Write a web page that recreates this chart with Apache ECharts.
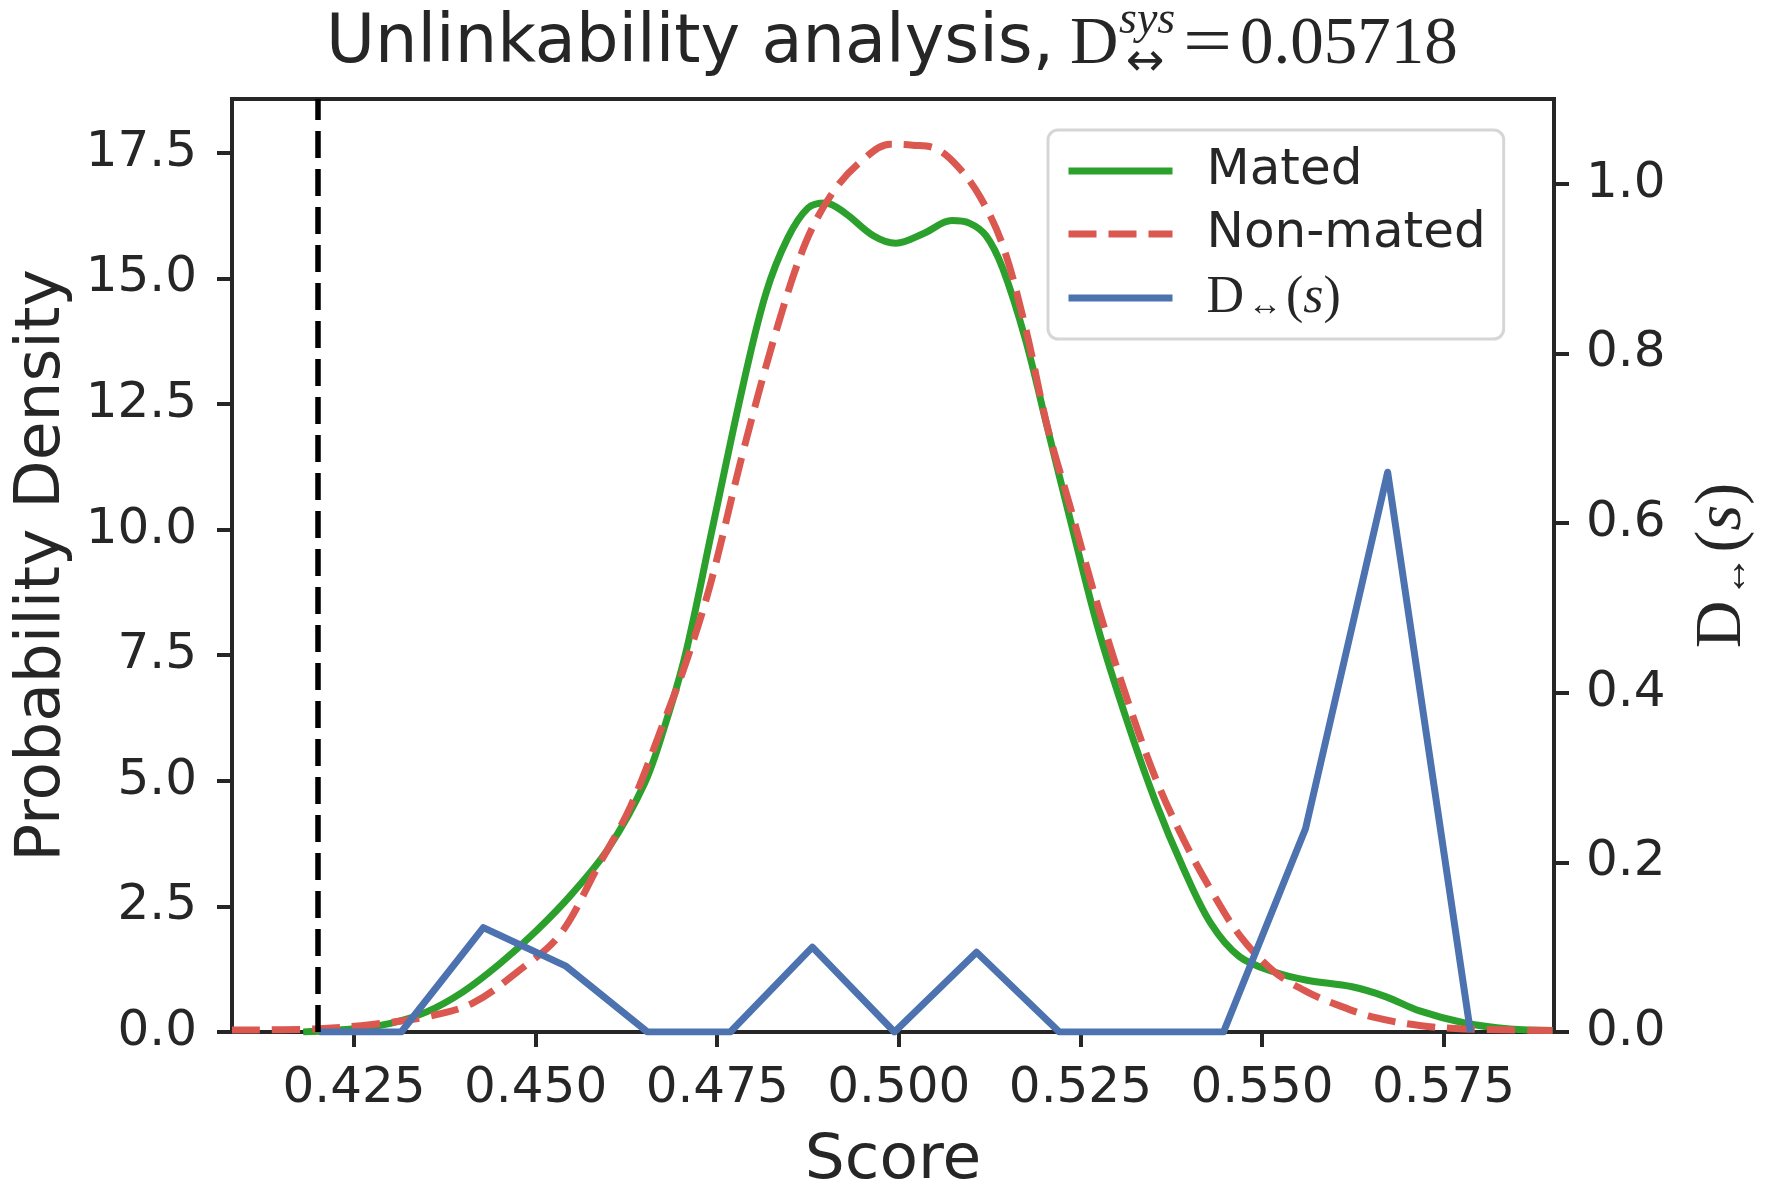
<!DOCTYPE html>
<html>
<head>
<meta charset="utf-8">
<script src="https://cdn.jsdelivr.net/npm/echarts@6/dist/echarts.min.js"></script>
<style>
html,body{margin:0;padding:0;background:#fff;}
#chart{width:1767px;height:1201px;}
</style>
</head>
<body>
<div id="chart"></div>
<script>
// axis ticks
var scoreTicks = [0.425, 0.45, 0.475, 0.5, 0.525, 0.55, 0.575];
var densityTicks = [0, 2.5, 5, 7.5, 10, 12.5, 15, 17.5];
var dTicks = [0, 0.2, 0.4, 0.6, 0.8, 1.0];

// threshold (black dashed line)
var threshold = 0.4197;

// mated KDE
var matedScore = [0.418, 0.422, 0.426, 0.430, 0.435, 0.440, 0.445, 0.450, 0.455, 0.460, 0.465, 0.4678, 0.4706, 0.4743, 0.4786, 0.4817, 0.4847, 0.4875, 0.4899, 0.4926, 0.4965, 0.4996, 0.5035, 0.5073, 0.5097, 0.5120, 0.5143, 0.5174, 0.5205, 0.5236, 0.5275, 0.5314, 0.5353, 0.5392, 0.5430, 0.5469, 0.5516, 0.5562, 0.5624, 0.5671, 0.5717, 0.5779, 0.5841, 0.5900];
var matedDensity = [0.0, 0.03, 0.08, 0.17, 0.40, 0.80, 1.35, 2.0, 2.75, 3.65, 4.95, 6.1, 7.5, 10.0, 12.9, 14.7, 15.8, 16.4, 16.5, 16.3, 15.85, 15.7, 15.9, 16.15, 16.1, 15.85, 15.2, 13.8, 12.0, 10.2, 8.0, 6.2, 4.6, 3.25, 2.15, 1.5, 1.2, 1.03, 0.9, 0.7, 0.42, 0.18, 0.06, 0.03];

// non-mated KDE
var nonMatedScore = [0.4082, 0.4197, 0.4275, 0.4352, 0.4414, 0.4476, 0.4533, 0.4585, 0.4631, 0.4677, 0.4706, 0.4740, 0.4786, 0.4833, 0.4872, 0.4910, 0.4949, 0.4988, 0.5019, 0.5050, 0.5081, 0.5112, 0.5143, 0.5174, 0.5205, 0.5236, 0.5275, 0.5314, 0.5353, 0.5392, 0.5430, 0.5469, 0.5516, 0.5562, 0.5609, 0.5655, 0.5717, 0.5779, 0.5900];
var nonMatedDensity = [0.04, 0.06, 0.15, 0.31, 0.58, 1.21, 1.93, 3.27, 4.5, 6.19, 7.31, 8.88, 11.57, 14.04, 15.72, 16.73, 17.34, 17.67, 17.65, 17.59, 17.23, 16.62, 15.66, 14.04, 12.02, 10.45, 8.43, 6.64, 5.07, 3.83, 2.82, 1.93, 1.21, 0.8, 0.51, 0.29, 0.13, 0.06, 0.03];

// D<->(s)
var dScore = [0.4202, 0.4315, 0.4428, 0.4541, 0.4654, 0.4768, 0.4881, 0.4994, 0.5107, 0.5221, 0.5334, 0.5447, 0.5560, 0.5673, 0.5787];
var dValue = [0, 0, 0.123, 0.078, 0, 0, 0.10, 0, 0.094, 0, 0, 0, 0.24, 0.66, 0];

function pairs(xs, ys) {
  var out = [];
  for (var i = 0; i < xs.length; i++) out.push([xs[i], ys[i]]);
  return out;
}

var ink = '#262626';
var sans = 'DejaVu Sans';
var serif = 'Liberation Serif';

var chart = echarts.init(document.getElementById('chart'));

var option = {
  animation: false,
  backgroundColor: '#fff',
  grid: {
    left: 232, right: 213, top: 99, bottom: 169,
    show: true, borderColor: ink, borderWidth: 4
  },
  graphic: [
    { type: 'text', x: 326, y: 45, style: { text: 'Unlinkability analysis,', fontFamily: sans, fontSize: 67, fill: ink, verticalAlign: 'middle' } },
    { type: 'text', x: 1070, y: 45, style: { text: 'D', fontFamily: serif, fontSize: 67, fill: ink, verticalAlign: 'middle' } },
    { type: 'text', x: 1119, y: 21, style: { text: 'sys', fontFamily: serif, fontStyle: 'italic', fontSize: 46, fill: ink, verticalAlign: 'middle' } },
    { type: 'text', x: 1126, y: 63, style: { text: '\u2194', fontFamily: sans, fontSize: 46, fill: ink, verticalAlign: 'middle' } },
    { type: 'text', x: 1183, y: 45, scaleX: 1.3, style: { text: '=', fontFamily: serif, fontSize: 67, fill: ink, verticalAlign: 'middle' } },
    { type: 'text', x: 1240, y: 45, style: { text: '0.05718', fontFamily: serif, fontSize: 67, fill: ink, verticalAlign: 'middle' } }
  ],
  legend: {
    orient: 'vertical',
    left: 1048, top: 130,
    padding: [16, 18, 15, 17],
    itemWidth: 104, itemHeight: 14, itemGap: 13,
    borderColor: '#d6d6d6', borderWidth: 3, borderRadius: 10,
    backgroundColor: '#fff',
    itemStyle: { opacity: 0 },
    lineStyle: { width: 7 },
    data: ['Mated', 'Non-mated', 'D\u2194(s)'],
    formatter: function (name) {
      if (name === 'D\u2194(s)') return '{d|D}{a|\u2194}{p|(}{s|s}{p|)}';
      return name;
    },
    textStyle: {
      fontFamily: sans, fontSize: 50, color: ink, lineHeight: 50, padding: [0, 0, 0, 29],
      rich: {
        d: { fontFamily: serif, fontSize: 52, color: ink },
        a: { fontFamily: serif, fontSize: 34, color: ink, verticalAlign: 'bottom', padding: [0, 4, 0, 4] },
        p: { fontFamily: serif, fontSize: 52, color: ink },
        s: { fontFamily: serif, fontStyle: 'italic', fontSize: 52, color: ink }
      }
    }
  },
  xAxis: {
    type: 'value',
    min: 0.4082, max: 0.5902,
    name: 'Score', nameLocation: 'middle', nameGap: 98,
    nameTextStyle: { fontFamily: sans, fontSize: 63, color: ink },
    axisLine: { show: true, lineStyle: { color: ink, width: 4 } },
    axisTick: { show: true, length: 15, lineStyle: { color: ink, width: 4 }, customValues: scoreTicks },
    axisLabel: { customValues: scoreTicks, margin: 32, fontFamily: sans, fontSize: 50, color: ink,
      formatter: function (v) { return v.toFixed(3); } },
    splitLine: { show: false }
  },
  yAxis: [
    {
      type: 'value', position: 'left',
      min: 0, max: 18.57,
      name: 'Probability Density', nameLocation: 'middle', nameGap: 158,
      nameTextStyle: { fontFamily: sans, fontSize: 63, color: ink },
      axisLine: { show: true, lineStyle: { color: ink, width: 4 } },
      axisTick: { show: true, length: 15, lineStyle: { color: ink, width: 4 }, customValues: densityTicks },
      axisLabel: { customValues: densityTicks, margin: 35, fontFamily: sans, fontSize: 50, color: ink,
        formatter: function (v) { return v.toFixed(1); } },
      splitLine: { show: false }
    },
    {
      type: 'value', position: 'right',
      min: 0, max: 1.1,
      name: '{d|D}{a|\u2194}{p|(}{s|s}{p|)}', nameLocation: 'middle', nameGap: 136, nameRotate: 90,
      nameTextStyle: {
        color: ink,
        rich: {
          d: { fontFamily: serif, fontSize: 66, color: ink },
          a: { fontFamily: serif, fontSize: 42, color: ink, verticalAlign: 'bottom', padding: [0, 3, 0, 3] },
          p: { fontFamily: serif, fontSize: 66, color: ink },
          s: { fontFamily: serif, fontStyle: 'italic', fontSize: 66, color: ink }
        }
      },
      axisLine: { show: true, lineStyle: { color: ink, width: 4 } },
      axisTick: { show: true, length: 15, lineStyle: { color: ink, width: 4 }, customValues: dTicks },
      axisLabel: { customValues: dTicks, margin: 32, fontFamily: sans, fontSize: 50, color: ink,
        formatter: function (v) { return v.toFixed(1); } },
      splitLine: { show: false }
    }
  ],
  series: [
    {
      name: 'Mated', type: 'line', yAxisIndex: 0,
      data: pairs(matedScore, matedDensity),
      symbol: 'none', smooth: 0.35,
      lineStyle: { color: '#2ca02c', width: 7 },
      itemStyle: { color: '#2ca02c' },
      markLine: {
        silent: true, symbol: ['none', 'none'],
        label: { show: false },
        lineStyle: { color: '#000', width: 5.5, type: [27, 11] },
        data: [{ xAxis: threshold }]
      }
    },
    {
      name: 'Non-mated', type: 'line', yAxisIndex: 0,
      data: pairs(nonMatedScore, nonMatedDensity),
      symbol: 'none', smooth: 0.35,
      lineStyle: { color: '#db5850', width: 7, type: [28, 12] },
      itemStyle: { color: '#db5850' }
    },
    {
      name: 'D\u2194(s)', type: 'line', yAxisIndex: 1,
      data: pairs(dScore, dValue),
      symbol: 'none',
      lineStyle: { color: '#4c72b0', width: 7, join: 'round' },
      itemStyle: { color: '#4c72b0' }
    }
  ]
};

chart.setOption(option);
</script>
</body>
</html>
